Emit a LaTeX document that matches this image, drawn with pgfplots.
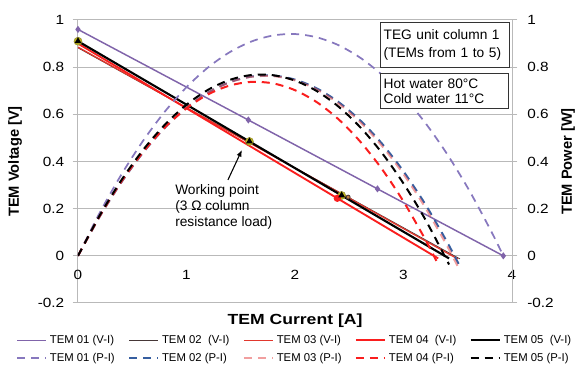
\documentclass[border=0pt]{standalone}
\usepackage{fontspec}
\setmainfont{Liberation Sans}
\usepackage{pgfplots}
\pgfplotsset{compat=1.18}
\usetikzlibrary{arrows.meta}
\definecolor{tpurple}{RGB}{128,100,170}
\definecolor{tpurpled}{RGB}{135,120,190}
\definecolor{tdark}{RGB}{70,55,55}
\definecolor{tblue}{RGB}{55,95,160}
\definecolor{tred3}{RGB}{225,55,45}
\definecolor{tred4}{RGB}{250,30,30}
\definecolor{tsalmon}{RGB}{230,80,80}
\definecolor{tolive}{RGB}{150,140,50}
\definecolor{gridgray}{RGB}{185,185,185}
\begin{document}
\begin{tikzpicture}
\path[use as bounding box] (-58.5pt,-51pt) rectangle (375.75pt,227.25pt);
\begin{axis}[
  at={(0pt,0pt)}, anchor=south west,
  scale only axis, width=325.5pt, height=212.25pt,
  xmin=0, xmax=4, ymin=-0.2, ymax=1,
  axis x line*=bottom, axis y line*=left,
  x axis line style={draw=none},
  y axis line style={gridgray,-,line width=0.75pt},
  xtick={0,1,2,3,4}, ytick={-0.2,0,0.2,0.4,0.6,0.8,1},
  ymajorgrids, grid style={gridgray, line width=0.75pt},
  tick align=outside, major tick length=4pt,
  tick style={gridgray, line width=0.75pt},
  xtick style={draw=none},
  ticklabel style={font=\fontsize{10}{12}\selectfont, xscale=1.15},
  xticklabel style={yshift=32pt},
  yticklabel style={xshift=-2pt},
  /pgf/number format/assume math mode=true,
  xlabel={TEM Current [A]}, ylabel={TEM Voltage [V]},
  label style={font=\bfseries\fontsize{11}{13}\selectfont},
  xlabel style={at={(axis description cs:0.5,-0.063)}, anchor=center, xscale=1.2},
  ylabel style={at={(axis description cs:-0.145,0.5)}, anchor=center},
  legend columns=5,
  legend cell align=left,
  legend image code/.code={\draw[#1] (0pt,0pt) -- (22pt,0pt);},
  legend style={at={(axis description cs:0.5,0)}, anchor=north, yshift=-22pt,
    draw=none, fill=none, font=\fontsize{8.5}{10}\selectfont, inner sep=0pt,
    row sep=1.5pt,
    /tikz/every even column/.append style={column sep=8pt}},
]
% markers behind lines
\addplot[only marks, mark=*, mark size=3pt, draw=tolive, fill=tolive!60!yellow, forget plot]
  coordinates {(0,0.91)(1.58,0.485)(2.43,0.256)};
% V-I
\addplot[tpurple, line width=1.1pt, mark=diamond*, mark size=1.8pt, mark options={solid,fill=tpurple}]
  coordinates {(0,0.96)(1.57,0.576)(2.76,0.284)(3.92,0)};
\addlegendentry{TEM 01 (V-I)}
\addplot[tdark, line width=0.6pt, mark=*, mark size=1.5pt, mark indices={3}, mark options={fill=brown}]
  coordinates {(0,0.882)(1.58,0.480)(2.49,0.249)(3.52,-0.013)};
\addlegendentry{TEM 02\ \ (V-I)}
\addplot[tred3, line width=1pt, mark=none]
  coordinates {(0,0.885)(1.57,0.482)(2.45,0.257)(3.50,-0.013)};
\addlegendentry{TEM 03\ (V-I)}
\addplot[tred4, line width=1.4pt, mark=*, mark size=2pt, mark indices={3}, mark options={fill=tred4}]
  coordinates {(0,0.90)(1.56,0.472)(2.39,0.244)(3.32,-0.011)};
\addlegendentry{TEM 04\ \ (V-I)}
\addplot[black, line width=1.6pt, mark=triangle*, mark size=1.4pt, mark indices={1,2,3}]
  coordinates {(0,0.91)(1.58,0.485)(2.43,0.256)(3.42,-0.011)};
\addlegendentry{TEM 05\ \ (V-I)}
% P-I
\addplot[tpurpled, line width=1.3pt, smooth, dash pattern=on 6pt off 4.5pt]
  coordinates {(0,0)(0.2,0.1822)(0.4,0.3448)(0.6,0.4878)(0.8,0.6113)(1.0,0.7151)(1.2,0.7993)(1.4,0.8640)(1.6,0.9091)(1.8,0.9345)(2.0,0.9404)(2.2,0.9267)(2.4,0.8934)(2.6,0.8405)(2.8,0.7680)(3.0,0.6759)(3.2,0.5642)(3.4,0.4330)(3.6,0.2821)(3.8,0.1116)(3.92,0)};
\addlegendentry{TEM 01 (P-I)}
\addplot[tblue, line width=1.5pt, smooth, dash pattern=on 6pt off 4.5pt]
  coordinates {(0,0)(0.2,0.1662)(0.4,0.3121)(0.6,0.4377)(0.8,0.5429)(1.0,0.6278)(1.2,0.6924)(1.4,0.7366)(1.6,0.7604)(1.8,0.7640)(2.0,0.7472)(2.2,0.7101)(2.4,0.6526)(2.6,0.5748)(2.8,0.4767)(3.0,0.3582)(3.2,0.2194)(3.4,0.0602)(3.52,-0.045)};
\addlegendentry{TEM 02 (P-I)}
\addplot[tsalmon, line width=1.5pt, smooth, dash pattern=on 6pt off 4.5pt, opacity=0.55]
  coordinates {(0,0)(0.2,0.1667)(0.4,0.3130)(0.6,0.4387)(0.8,0.5438)(1.0,0.6285)(1.2,0.6926)(1.4,0.7362)(1.6,0.7593)(1.8,0.7619)(2.0,0.7439)(2.2,0.7054)(2.4,0.6464)(2.6,0.5669)(2.8,0.4669)(3.0,0.3463)(3.2,0.2052)(3.4,0.0436)(3.50,-0.045)};
\addlegendentry{TEM 03 (P-I)}
\addplot[tred4, line width=1.5pt, smooth, dash pattern=on 6pt off 4.5pt]
  coordinates {(0,0)(0.2,0.1690)(0.4,0.3161)(0.6,0.4412)(0.8,0.5444)(1.0,0.6256)(1.2,0.6849)(1.4,0.7222)(1.6,0.7376)(1.8,0.7310)(2.0,0.7024)(2.2,0.6519)(2.4,0.5795)(2.6,0.4851)(2.8,0.3688)(3.0,0.2305)(3.2,0.0702)(3.32,-0.0365)};
\addlegendentry{TEM 04 (P-I)}
\addplot[black, line width=1.5pt, smooth, dash pattern=on 6pt off 4.5pt]
  coordinates {(0,0)(0.2,0.1712)(0.4,0.3209)(0.6,0.4491)(0.8,0.5557)(1.0,0.6408)(1.2,0.7043)(1.4,0.7463)(1.6,0.7668)(1.8,0.7657)(2.0,0.7431)(2.2,0.6989)(2.4,0.6332)(2.6,0.5460)(2.8,0.4372)(3.0,0.3069)(3.2,0.1551)(3.42,-0.0368)};
\addlegendentry{TEM 05 (P-I)}
% annotations
\node[draw=black!80, line width=1pt, fill=white, anchor=north west, align=left,
  inner xsep=2.5pt, inner ysep=2pt, text width=92pt, minimum height=33.75pt,
  font=\fontsize{10.3}{13.5}\selectfont] at (axis cs:2.78,0.9915)
  {TEG unit column 1\\(TEMs from 1 to 5)};
\node[draw=black!80, line width=1pt, fill=white, anchor=north west, align=left,
  inner xsep=2.5pt, inner ysep=2pt, text width=91pt, minimum height=26pt,
  font=\fontsize{10.3}{11.5}\selectfont] at (axis cs:2.78,0.775)
  {Hot water 80°C\\Cold water 11°C};
\node[anchor=north west, align=left, inner sep=0pt,
  font=\fontsize{10.3}{12}\selectfont] at (axis cs:0.894,0.305)
  {Working point\\(3 Ω column\\resistance load)};
\draw[-{Latex[length=5pt,width=4pt]}, line width=0.8pt] (axis cs:1.382,0.322) -- (axis cs:1.511,0.449);
\end{axis}
\begin{axis}[
  at={(0pt,0pt)}, anchor=south west,
  scale only axis, width=325.5pt, height=212.25pt,
  xmin=0, xmax=4, ymin=-0.2, ymax=1,
  axis y line*=right, axis x line=none,
  y axis line style={gridgray,-,line width=0.75pt},
  ytick={-0.2,0,0.2,0.4,0.6,0.8,1},
  tick align=outside, major tick length=4pt,
  tick style={gridgray, line width=0.75pt},
  ticklabel style={font=\fontsize{10}{12}\selectfont, xscale=1.15},
  yticklabel style={xshift=3pt},
  /pgf/number format/assume math mode=true,
  ylabel={TEM Power [W]},
  label style={font=\bfseries\fontsize{11}{13}\selectfont},
  ylabel style={at={(axis description cs:1.129,0.5)}, anchor=center},
]
\end{axis}
\end{tikzpicture}
\end{document}
